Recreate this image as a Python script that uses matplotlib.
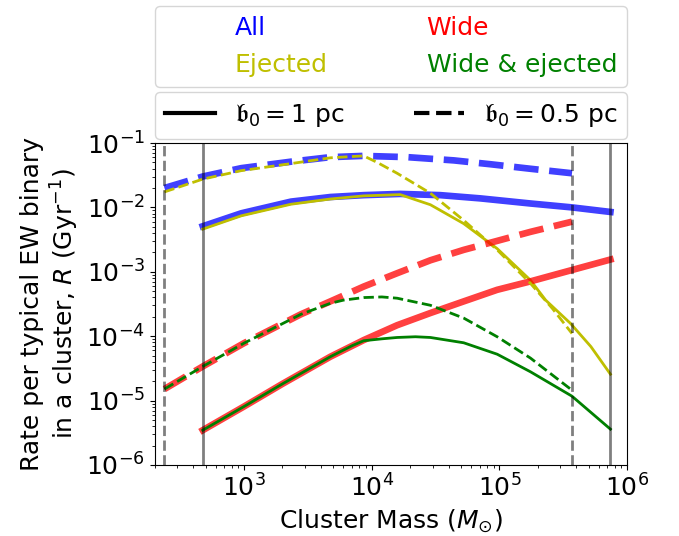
import matplotlib.pyplot as plt
from matplotlib.lines import Line2D

plt.rcParams['font.size'] = 18

# b0 = 1 pc (solid)
mass_all_1 = [475, 950, 2.33e3, 4.74e3, 8.65e3, 1.67e4, 3.44e4, 7.1e4, 1.75e5, 3.7e5, 7.4e5]
rate_all_1 = [5.1e-3, 8.1e-3, 1.23e-2, 1.45e-2, 1.55e-2, 1.62e-2, 1.55e-2, 1.38e-2,
              1.15e-2, 1.0e-2, 8.5e-3]

mass_ej_1 = [475, 950, 2.33e3, 4.74e3, 8.65e3, 1.67e4, 2.88e4, 5.25e4, 9.6e4,
             1.75e5, 2.3e5, 3.6e5, 5.2e5, 7.4e5]
rate_ej_1 = [4.6e-3, 7.4e-3, 1.12e-2, 1.35e-2, 1.51e-2, 1.58e-2, 1.1e-2, 5.6e-3, 2.29e-3,
             7.4e-4, 3.63e-4, 1.58e-4, 6.9e-5, 2.57e-5]

mass_wide_1 = [475, 1e3, 2e3, 4.74e3, 8.65e3, 1.58e4, 2.88e4, 5.25e4, 9.6e4,
               1.75e5, 3.6e5, 7.4e5]
rate_wide_1 = [3.47e-6, 8.1e-6, 1.82e-5, 4.8e-5, 8.7e-5, 1.48e-4, 2.29e-4, 3.47e-4, 5.25e-4,
               7.1e-4, 1.05e-3, 1.55e-3]

mass_wej_1 = [475, 1e3, 2e3, 4.74e3, 7.0e3, 8.65e3, 1.2e4, 1.58e4, 2.2e4, 2.88e4,
              5.25e4, 9.6e4, 1.75e5, 3.7e5, 7.4e5]
rate_wej_1 = [3.47e-6, 8.1e-6, 1.82e-5, 4.8e-5, 7.1e-5, 8.5e-5, 9.1e-5, 9.55e-5, 9.8e-5,
              9.55e-5, 7.9e-5, 5.25e-5, 2.8e-5, 1.17e-5, 3.6e-6]

# b0 = 0.5 pc (dashed)
mass_all_05 = [238, 475, 950, 2.33e3, 4.74e3, 8.65e3, 1.9e4, 4.4e4, 8.5e4, 1.75e5, 3.7e5]
rate_all_05 = [2.0e-2, 3.02e-2, 4.07e-2, 5.13e-2, 6.03e-2, 6.31e-2, 6.03e-2, 5.37e-2,
               4.68e-2, 3.98e-2, 3.39e-2]

mass_ej_05 = [238, 475, 950, 2.33e3, 4.74e3, 8.65e3, 1.1e4, 1.58e4, 2.88e4, 5.25e4,
              9.6e4, 1.75e5, 2.6e5, 3.7e5]
rate_ej_05 = [1.74e-2, 2.75e-2, 3.72e-2, 4.79e-2, 5.89e-2, 6.31e-2, 5.01e-2, 3.39e-2,
              1.66e-2, 6.3e-3, 2.19e-3, 6.6e-4, 2.69e-4, 1.1e-4]

mass_wide_05 = [238, 475, 1e3, 2.79e3, 4.74e3, 8.65e3, 1.58e4, 2.88e4, 5.25e4, 9.6e4,
                1.75e5, 3.7e5]
rate_wide_05 = [1.51e-5, 3.39e-5, 7.8e-5, 2.19e-4, 3.47e-4, 5.9e-4, 9.5e-4, 1.51e-3,
                2.19e-3, 3.02e-3, 4.17e-3, 6.0e-3]

mass_wej_05 = [238, 475, 1e3, 2.79e3, 4.74e3, 6e3, 8.65e3, 1.2e4, 1.58e4, 2.88e4,
               5.25e4, 9.6e4, 1.75e5, 3.7e5]
rate_wej_05 = [1.51e-5, 3.39e-5, 7.8e-5, 2.19e-4, 3.24e-4, 3.63e-4, 3.98e-4, 4.07e-4,
               3.89e-4, 3.02e-4, 1.91e-4, 9.8e-5, 4.57e-5, 1.45e-5]

# cluster mass limits
mlim_1 = [475, 7.4e5]
mlim_05 = [238, 3.7e5]

fig = plt.figure(figsize=(6.79, 5.36), dpi=100)
ax = fig.add_axes([0.228, 0.1325, 0.6956, 0.6007])

thick = 4.8
thin = 2
ax.plot(mass_all_1, rate_all_1, '-', color='b', alpha=0.75, lw=thick)
ax.plot(mass_ej_1, rate_ej_1, '-', color='y', lw=thin)
ax.plot(mass_wide_1, rate_wide_1, '-', color='r', alpha=0.75, lw=thick)
ax.plot(mass_wej_1, rate_wej_1, '-', color='g', lw=thin)

ax.plot(mass_all_05, rate_all_05, '--', color='b', alpha=0.75, lw=thick)
ax.plot(mass_ej_05, rate_ej_05, '--', color='y', lw=thin)
ax.plot(mass_wide_05, rate_wide_05, '--', color='r', alpha=0.75, lw=thick)
ax.plot(mass_wej_05, rate_wej_05, '--', color='g', lw=thin)

for m in mlim_1:
    ax.axvline(m, color='k', alpha=0.5, lw=2, ls='-')
for m in mlim_05:
    ax.axvline(m, color='k', alpha=0.5, lw=2, ls='--')

ax.set_xscale('log')
ax.set_yscale('log')
ax.set_xlim(2e2, 1e6)
ax.set_ylim(1e-6, 1e-1)
ax.set_xlabel(r'Cluster Mass ($M_{\odot}$)')
ax.set_ylabel('Rate per typical EW binary\n' + r'in a cluster, $R$ (Gyr$^{-1}$)')

# colour legend (text only)
names = ['All', 'Ejected', 'Wide', 'Wide & ejected']
cols = ['b', 'y', 'r', 'g']
h1 = [Line2D([], [], color=c) for c in cols]
leg1 = ax.legend(h1, names, loc='lower left', bbox_to_anchor=(0, 1.174, 1, 0.2),
                 mode='expand', ncol=2, borderaxespad=0)
for h in leg1.legend_handles:
    h.set_visible(False)
for t, c in zip(leg1.get_texts(), cols):
    t.set_color(c)
ax.add_artist(leg1)

h2 = [Line2D([], [], color='k', lw=3, ls='-'), Line2D([], [], color='k', lw=3, ls='--')]
ax.legend(h2, [r'$\mathfrak{b}_0 = 1$ pc', r'$\mathfrak{b}_0 = 0.5$ pc'],
          loc='lower left', bbox_to_anchor=(0, 1.0124, 1, 0.1),
          mode='expand', ncol=2, borderaxespad=0)

plt.savefig('out.png', dpi=100)
